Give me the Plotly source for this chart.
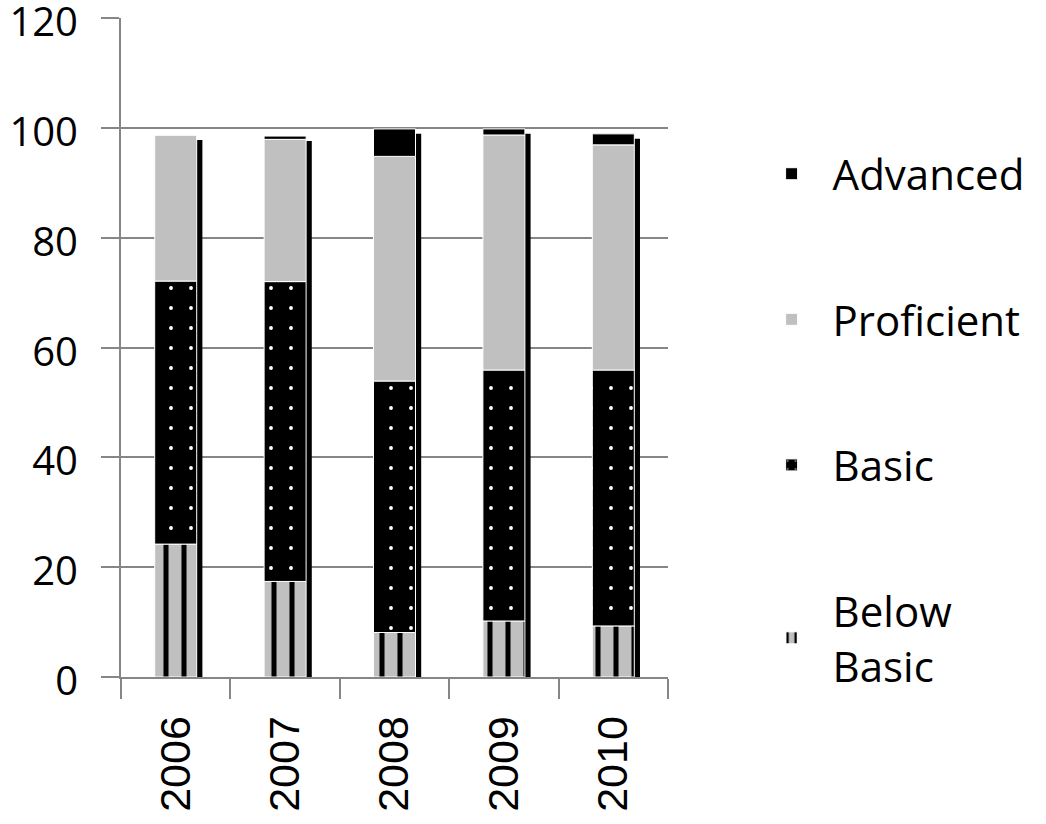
import numpy as np
import plotly.graph_objects as go

years = ["2006", "2007", "2008", "2009", "2010"]
below_basic = [24.2, 17.4, 8.1, 10.2, 9.3]
basic = [47.9, 54.6, 45.8, 45.7, 46.6]
proficient = [26.6, 25.9, 40.9, 42.8, 41.0]
advanced = [0.0, 0.6, 5.0, 1.1, 2.0]
y_ticks = [0, 20, 40, 60, 80, 100, 120]

series = [
    ("Below<br>Basic", below_basic, dict(color="#c0c0c0", pattern=dict(shape="|", fgcolor="black", bgcolor="#c0c0c0", size=18, solidity=0.28, fillmode="replace"))),
    ("Basic", basic, dict(color="black", pattern=dict(shape=".", fgcolor="white", bgcolor="black", size=20, solidity=0.03, fillmode="replace"))),
    ("Proficient", proficient, dict(color="#c0c0c0")),
    ("Advanced", advanced, dict(color="black")),
]

W = 0.384
totals = np.sum([np.array(s[1]) for s in series], axis=0)

fig = go.Figure()
# drop shadow behind each stacked column
fig.add_trace(go.Bar(
    x=years, y=totals, base=-0.9, width=W, offset=-W / 2 + 0.052,
    marker=dict(color="black", line=dict(width=0)), showlegend=False, hoverinfo="skip",
))

base = np.zeros(len(years))
for i, (name, vals, mk) in enumerate(series):
    vals = np.array(vals)
    mk = dict(mk)
    mk["line"] = dict(color="white", width=1)
    fig.add_trace(go.Bar(
        x=years, y=vals, base=base.copy(), name=name, width=W,
        marker=mk, legendgroup=f"g{i}", legendrank=100 - i,
    ))
    base = base + vals

fig.update_layout(
    width=1046, height=824,
    margin=dict(l=121, r=378, t=18, b=147),
    barmode="overlay",
    paper_bgcolor="white", plot_bgcolor="white",
    showlegend=True,
    legend=dict(
        x=1.151, y=0.815, xanchor="left", yanchor="top",
        traceorder="grouped", tracegroupgap=88, itemwidth=72,
        font=dict(family="Open Sans", size=42, color="black"),
        bgcolor="rgba(0,0,0,0)",
    ),
    font=dict(family="Open Sans", color="black"),
)
fig.update_yaxes(
    range=[0, 120], tickvals=y_ticks, ticktext=[str(v) for v in y_ticks],
    showgrid=True, gridcolor="#868686", gridwidth=2,
    showline=True, linecolor="#868686", linewidth=2,
    ticks="outside", ticklen=18, tickwidth=2, tickcolor="#868686",
    tickfont=dict(family="Open Sans", size=40, color="black"),
    zeroline=False, ticklabelstandoff=15, automargin=False,
    ticklabeloverflow="allow", ticklabelshift=4,
)
fig.update_xaxes(
    type="category", range=[-0.5, 4.5],
    showline=True, linecolor="#868686", linewidth=2,
    ticks="outside", ticklen=20, tickwidth=2, tickcolor="#868686",
    tickson="boundaries", tickangle=-90,
    tickfont=dict(family="Liberation Sans", size=43, color="black"),
    ticklabelstandoff=20, automargin=False,
)

fig.write_html("out.html", config={"displayModeBar": False},
               post_script="document.body.style.margin='0';")
